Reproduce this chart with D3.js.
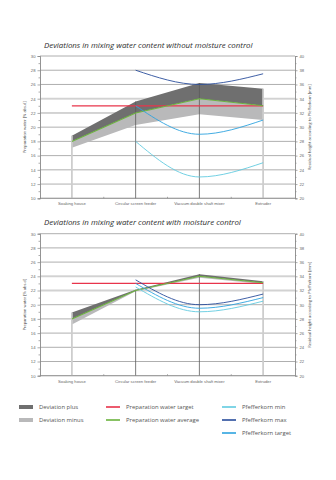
<!DOCTYPE html>
<html>
<head>
<meta charset="utf-8">
<script src="https://cdn.jsdelivr.net/npm/d3@7"></script>
<style>
  body { margin: 0; background: #fff; }
  svg { display: block; font-family: "Open Sans", sans-serif; }
  .axis path, .axis line { stroke: #8a8a8a; stroke-width: 0.7; }
  .axis text { fill: #666; font-size: 4.2px; }
</style>
</head>
<body>
<div id="chart"></div>
<script>
var categories = ["Soaking house", "Circular screen feeder", "Vacuum double shaft mixer", "Extruder"];
var waterTicks = [10, 12, 14, 16, 18, 20, 22, 24, 26, 28, 30];
var waterMinorTicks = [11, 13, 15, 17, 19, 21, 23, 25, 27, 29];
var pfefferTicks = [20, 22, 24, 26, 28, 30, 32, 34, 36, 38, 40];
var pfefferMinorTicks = [21, 23, 25, 27, 29, 31, 33, 35, 37, 39];
var toleranceLines = [22, 24];
var waterTarget = 23;

// without moisture control
var avgNoControl = [18, 22, 24, 23];
var plusNoControl = [18.8, 23.6, 26.2, 25.4];
var minusNoControl = [17.1, 20.3, 21.8, 21.0];
var pkMinNoControl = [null, 28, 23, 25];
var pkMaxNoControl = [null, 38, 36, 37.5];
var pkTargetNoControl = [null, 33, 29, 31];

// with moisture control
var avgControl = [18, 22, 24, 23.1];
var plusControl = [18.9, 22.1, 24.3, 23.3];
var minusControl = [17.2, 21.9, 23.8, 22.9];
var pkMinControl = [null, 32.5, 29, 30.5];
var pkMaxControl = [null, 33.5, 30, 31.5];
var pkTargetControl = [null, 33, 29.5, 31];

var colors = {
  plus: "#6f6f6f",
  minus: "#b9b9ba",
  target: "#e8344b",
  average: "#6cb33f",
  pkMin: "#62cbe0",
  pkMax: "#2a4e9c",
  pkTarget: "#2ea3df"
};

var w = 336, h = 480;
var left = 40, right = 295;

var svg = d3.select("#chart").append("svg")
  .attr("width", w)
  .attr("height", h);

svg.append("rect").attr("width", w).attr("height", h).attr("fill", "#fff");

var x = d3.scaleBand().domain(categories).range([left, right]);
function cx(i) { return x(categories[i]) + x.bandwidth() / 2; }

var drawChart = function(title, top, bottom, avg, plus, minus, pkMin, pkMax, pkTarget) {
  var g = svg.append("g");

  var yWater = d3.scaleLinear().domain([10, 30]).range([bottom, top]);
  var yPfeffer = d3.scaleLinear().domain([20, 40]).range([bottom, top]);

  g.append("text")
    .attr("x", 44)
    .attr("y", top - 8.3)
    .attr("font-size", 7.9)
    .attr("font-style", "italic")
    .attr("fill", "#2e2e2e")
    .text(title);

  // horizontal grid
  g.append("g").selectAll("line")
    .data(waterTicks)
    .enter()
    .append("line")
    .attr("x1", left).attr("x2", right)
    .attr("y1", function(d) { return yWater(d); })
    .attr("y2", function(d) { return yWater(d); })
    .attr("stroke", "#9a9a9a")
    .attr("stroke-width", 0.8);

  g.append("g").selectAll("line")
    .data(toleranceLines)
    .enter()
    .append("line")
    .attr("x1", left).attr("x2", right)
    .attr("y1", function(d) { return yWater(d); })
    .attr("y2", function(d) { return yWater(d); })
    .attr("stroke", "#d2d2d2")
    .attr("stroke-width", 1.8);

  // deviation bands
  var idx = d3.range(categories.length);
  var plusArea = d3.area()
    .x(function(i) { return cx(i); })
    .y0(function(i) { return yWater(avg[i]); })
    .y1(function(i) { return yWater(plus[i]); });
  var minusArea = d3.area()
    .x(function(i) { return cx(i); })
    .y0(function(i) { return yWater(minus[i]); })
    .y1(function(i) { return yWater(avg[i]); });

  g.append("path").datum(idx).attr("d", plusArea).attr("fill", colors.plus);
  g.append("path").datum(idx).attr("d", minusArea).attr("fill", colors.minus);

  // category drop lines up to the top of the band
  g.append("g").selectAll("line")
    .data(idx)
    .enter()
    .append("line")
    .attr("x1", function(i) { return cx(i); })
    .attr("x2", function(i) { return cx(i); })
    .attr("y1", bottom)
    .attr("y2", function(i) { return yWater(plus[i]); })
    .attr("stroke", function(i) { return (i == 1 || i == 2) ? "#5a5a5a" : "#cdcdcd"; })
    .attr("stroke-width", function(i) { return (i == 1 || i == 2) ? 0.8 : 1.8; });

  // axes
  g.append("g")
    .attr("class", "axis")
    .attr("transform", "translate(" + left + ",0)")
    .call(d3.axisLeft(yWater).tickValues(waterTicks).tickSize(2.5).tickPadding(2));
  g.append("g")
    .attr("class", "axis")
    .attr("transform", "translate(" + left + ",0)")
    .call(d3.axisLeft(yWater).tickValues(waterMinorTicks).tickSize(1.5).tickFormat(""));

  g.append("g")
    .attr("class", "axis")
    .attr("transform", "translate(" + right + ",0)")
    .call(d3.axisRight(yPfeffer).tickValues(pfefferTicks).tickSize(2.5).tickPadding(2));
  g.append("g")
    .attr("class", "axis")
    .attr("transform", "translate(" + right + ",0)")
    .call(d3.axisRight(yPfeffer).tickValues(pfefferMinorTicks).tickSize(1.5).tickFormat(""));

  var xAxis = g.append("g")
    .attr("class", "axis")
    .attr("transform", "translate(0," + bottom + ")")
    .call(d3.axisBottom(x).tickSize(0).tickPadding(4));
  xAxis.selectAll(".domain").remove();
  g.append("line")
    .attr("x1", left).attr("x2", right)
    .attr("y1", bottom).attr("y2", bottom)
    .attr("stroke", "#8a8a8a").attr("stroke-width", 0.7);
  g.append("g").selectAll("line")
    .data(categories.slice(1))
    .enter()
    .append("line")
    .attr("x1", function(d) { return x(d); })
    .attr("x2", function(d) { return x(d); })
    .attr("y1", bottom - 1.5).attr("y2", bottom)
    .attr("stroke", "#8a8a8a").attr("stroke-width", 0.7);

  g.append("text")
    .attr("transform", "translate(26," + ((top + bottom) / 2) + ") rotate(-90)")
    .attr("text-anchor", "middle")
    .attr("font-size", 4)
    .attr("fill", "#444")
    .text("Preparation water [% abs.d]");

  g.append("text")
    .attr("transform", "translate(311," + ((top + bottom) / 2) + ") rotate(-90)")
    .attr("text-anchor", "middle")
    .attr("font-size", 4)
    .attr("fill", "#444")
    .text("Residual height according to Pfefferkorn [mm]");

  // preparation water lines
  var waterLine = d3.line()
    .x(function(i) { return cx(i); })
    .y(function(i) { return yWater(avg[i]); });

  g.append("line")
    .attr("x1", cx(0)).attr("x2", cx(3))
    .attr("y1", yWater(waterTarget)).attr("y2", yWater(waterTarget))
    .attr("stroke", colors.target)
    .attr("stroke-width", 1.3);

  g.append("path")
    .datum(idx)
    .attr("d", waterLine)
    .attr("fill", "none")
    .attr("stroke", colors.average)
    .attr("stroke-width", 1.1);

  // Pfefferkorn curves
  var pkLine = function(vals) {
    return d3.line()
      .defined(function(i) { return vals[i] != null; })
      .x(function(i) { return cx(i); })
      .y(function(i) { return yPfeffer(vals[i]); })
      .curve(d3.curveMonotoneX);
  };

  [[pkMin, colors.pkMin], [pkTarget, colors.pkTarget], [pkMax, colors.pkMax]].forEach(function(s) {
    g.append("path")
      .datum(idx.filter(function(i) { return s[0][i] != null; }))
      .attr("d", pkLine(s[0]))
      .attr("fill", "none")
      .attr("stroke", s[1])
      .attr("stroke-width", 0.9);
  });
};

drawChart("Deviations in mixing water content without moisture control", 56, 198.3,
  avgNoControl, plusNoControl, minusNoControl, pkMinNoControl, pkMaxNoControl, pkTargetNoControl);
drawChart("Deviations in mixing water content with moisture control", 233.7, 375.7,
  avgControl, plusControl, minusControl, pkMinControl, pkMaxControl, pkTargetControl);

// legend
var legendItems = [
  { label: "Deviation plus", color: colors.plus, kind: "box", col: 0, row: 0 },
  { label: "Deviation minus", color: colors.minus, kind: "box", col: 0, row: 1 },
  { label: "Preparation water target", color: colors.target, kind: "line", col: 1, row: 0 },
  { label: "Preparation water average", color: colors.average, kind: "line", col: 1, row: 1 },
  { label: "Pfefferkorn min", color: colors.pkMin, kind: "line", col: 2, row: 0 },
  { label: "Pfefferkorn max", color: colors.pkMax, kind: "line", col: 2, row: 1 },
  { label: "Pfefferkorn target", color: colors.pkTarget, kind: "line", col: 2, row: 2 }
];
var colX = [19, 106, 222];
var rowY = [407, 420, 433];

var legend = svg.append("g").selectAll("g")
  .data(legendItems)
  .enter()
  .append("g")
  .attr("transform", function(d) { return "translate(" + colX[d.col] + "," + rowY[d.row] + ")"; });

legend.append("rect")
  .attr("x", 0)
  .attr("y", function(d) { return d.kind == "box" ? -2 : -0.8; })
  .attr("width", 14)
  .attr("height", function(d) { return d.kind == "box" ? 4 : 1.6; })
  .attr("fill", function(d) { return d.color; });

legend.append("text")
  .attr("x", 20)
  .attr("y", 2)
  .attr("font-size", 5.9)
  .attr("fill", "#555")
  .text(function(d) { return d.label; });
</script>
</body>
</html>
